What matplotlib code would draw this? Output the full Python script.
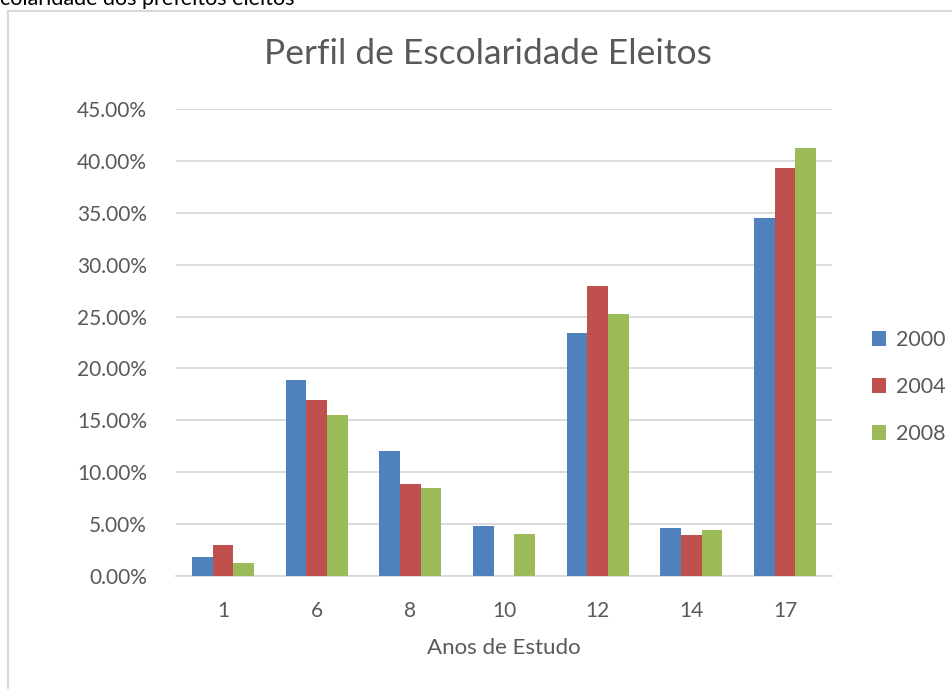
import matplotlib
matplotlib.use("Agg")
import matplotlib.pyplot as plt
import numpy as np

# data (percent)
anos = ['1', '6', '8', '10', '12', '14', '17']
series_names = ['2000', '2004', '2008']
v2000 = [1.83, 18.85, 12.04, 4.82, 23.40, 4.60, 34.50]
v2004 = [2.96, 16.92, 8.89, 0.0, 27.94, 3.98, 39.30]
v2008 = [1.22, 15.48, 8.48, 4.05, 25.20, 4.40, 41.20]
yticks = [0, 5, 10, 15, 20, 25, 30, 35, 40, 45]

colors = ['#4F81BD', '#C0504D', '#9BBB59']
grey = '#595959'
gridc = '#D9D9D9'

plt.rcParams['font.family'] = ['Lato', 'DejaVu Sans']

W, H = 953, 689
fig = plt.figure(figsize=(W/100, H/100), dpi=100)

# chart frame (cropped: only left and top edges visible)
fig.add_artist(plt.Line2D([8.5/W, 8.5/W], [0, 1-10.5/H], transform=fig.transFigure, color=gridc, lw=1.5))
fig.add_artist(plt.Line2D([8.5/W, 1], [1-10.5/H, 1-10.5/H], transform=fig.transFigure, color=gridc, lw=1.5))

# caption cut by the crop
fig.text(0, 1-5/H, 'colaridade dos prefeitos eleitos', fontsize=15.5, color='black', ha='left', va='baseline')

ax = fig.add_axes([176/W, 1-576/H, (832-176)/W, (576-109)/H])

x = np.arange(len(anos))
bw = 0.221
for i, (vals, name) in enumerate(zip([v2000, v2004, v2008], series_names)):
    ax.bar(x + (i-1)*bw, vals, width=bw, color=colors[i], label=name, zorder=3)

ax.set_xlim(-0.5, len(anos)-0.5)
ax.set_ylim(0, 45)
ax.set_yticks(yticks)
ax.set_yticklabels(['%.2f%%' % t for t in yticks])
ax.set_xticks(x)
ax.set_xticklabels(anos)
ax.yaxis.grid(True, color=gridc, lw=1.3, zorder=0)
ax.set_axisbelow(True)
for s in ['top', 'right', 'left']:
    ax.spines[s].set_visible(False)
ax.spines['bottom'].set_color(gridc)
ax.spines['bottom'].set_linewidth(1.3)
ax.tick_params(axis='both', length=0, labelsize=15, colors=grey)
ax.tick_params(axis='x', pad=18)
ax.tick_params(axis='y', pad=21)

ax.set_xlabel('Anos de Estudo', fontsize=16, color=grey, labelpad=12)
fig.text(488/W, 1-54/H, 'Perfil de Escolaridade Eleitos', fontsize=25.5, color=grey, ha='center', va='center')

ax.legend(loc='center left', bbox_to_anchor=(853/W, 1-387/H), bbox_transform=fig.transFigure,
          frameon=False, fontsize=15.5, handlelength=0.65, handleheight=0.65, handletextpad=0.45,
          labelspacing=1.25, labelcolor=grey)

fig.savefig('out.png', dpi=100)
